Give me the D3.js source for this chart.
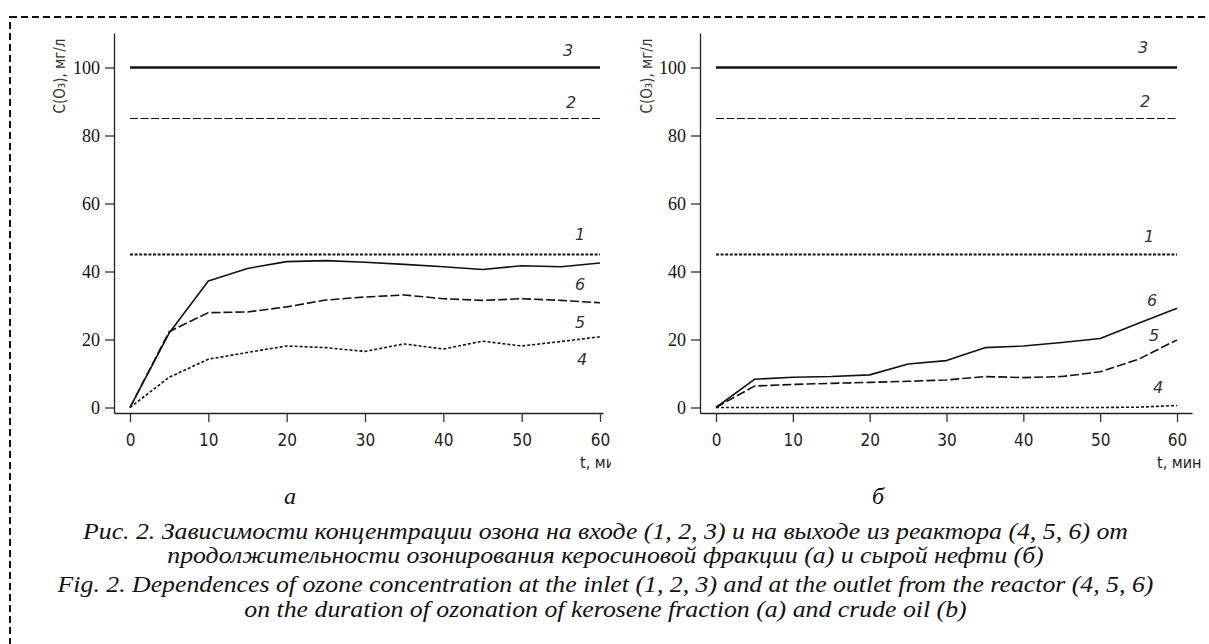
<!DOCTYPE html>
<html><head><meta charset="utf-8">
<script src="https://cdn.jsdelivr.net/npm/d3@7"></script>
<style>
html,body{margin:0;padding:0;background:#fff;}
svg{display:block;}
</style></head>
<body>
<svg id="chart" width="1209" height="644"></svg>
<script>
// ---- data ----
const times = [0,5,10,15,20,25,30,35,40,45,50,55,60];
const yTicks = [0,20,40,60,80,100];
const xTicks = [0,10,20,30,40,50,60];
const inletLevels = [45, 85, 100];          // curves 1, 2, 3
const inletLabels = ["1","2","3"];
// panel а (kerosene fraction)
const a_s4 = [0,8.9,14.2,16.2,18.1,17.6,16.5,18.7,17.2,19.5,18.1,19.4,20.8];
const a_s5 = [0,22.3,27.9,28.1,29.6,31.6,32.5,33.1,32.0,31.5,32.0,31.5,30.8];
const a_s6 = [0,21.9,37.2,40.9,42.9,43.2,42.7,42.1,41.4,40.6,41.7,41.4,42.5];
// panel б (crude oil)
const b_s4 = [0,0,0,0,0,0,0,0,0,0,0,0.1,0.6];
const b_s5 = [0,6.3,6.8,7.1,7.4,7.7,8.1,9.1,8.8,9.1,10.5,14.2,19.9];
const b_s6 = [0,8.3,8.9,9.1,9.6,12.8,13.8,17.6,18.1,19.1,20.3,24.8,29.2];
const outletLabels = ["4","5","6"];
const yTitle = "C(O\u2083), мг/л";
const xTitle = "t, мин";
const panelLetters = ["а","б"];
const captionLines = [
 "Рис. 2. Зависимости концентрации озона на входе (1, 2, 3) и на выходе из реактора (4, 5, 6) от",
 "продолжительности озонирования керосиновой фракции (а) и сырой нефти (б)",
 "Fig. 2. Dependences of ozone concentration at the inlet (1, 2, 3) and at the outlet from the reactor (4, 5, 6)",
 "on the duration of ozonation of kerosene fraction (a) and crude oil (b)"
];

const svg = d3.select("#chart");

// dashed frame
svg.append("rect").attr("x",10).attr("y",17).attr("width",1215).attr("height",650)
  .attr("fill","none").attr("stroke","#111").attr("stroke-width",2).attr("stroke-dasharray","7,4");

const inletStyles = [
  {dash:"3,1.6", w:2.2},
  {dash:"8,2.5", w:1},
  {dash:null, w:2.6}
];
const outletStyles = [
  {dash:"3,2", w:1.6},
  {dash:"9,3", w:1.6},
  {dash:null, w:1.6}
];

const panels = [
  {axisX:114, x0:130, x60:600, xEnd:603, titleX:60, clip:611,
   series:[a_s4,a_s5,a_s6],
   inletLabelPos:[[580,240],[571,108],[568,56]],
   outletLabelPos:[[582,365],[580,328],[580,290]],
   tLabel:[580,468]},
  {axisX:700, x0:716, x60:1177, xEnd:1192, titleX:647, clip:1209,
   series:[b_s4,b_s5,b_s6],
   inletLabelPos:[[1149,242],[1145,107],[1143,53]],
   outletLabelPos:[[1158,393],[1154,341],[1152,306]],
   tLabel:[1157,468]}
];

const yScale = d3.scaleLinear().domain([0,100]).range([407.5,67.5]);
const axisY = 413, axisTop = 33;

panels.forEach((p,pi)=>{
  const clipId = "clip"+pi;
  svg.append("clipPath").attr("id",clipId).append("rect")
    .attr("x",0).attr("y",0).attr("width",p.clip).attr("height",644);
  const g = svg.append("g").attr("clip-path",`url(#${clipId})`);
  const x = d3.scaleLinear().domain([0,60]).range([p.x0,p.x60]);
  const xAx = d3.scaleLinear().domain([x.invert(p.axisX), x.invert(p.xEnd)]).range([p.axisX,p.xEnd]);
  const yAx = d3.scaleLinear().domain([yScale.invert(axisY), yScale.invert(axisTop)]).range([axisY,axisTop]);

  const gx = g.append("g").attr("transform",`translate(0,${axisY})`)
    .call(d3.axisBottom(xAx).tickValues(xTicks).tickSize(9).tickSizeOuter(0).tickPadding(12).tickFormat(d3.format("d")));
  gx.selectAll("text").attr("font-family","'DejaVu Sans Condensed','DejaVu Sans',sans-serif")
    .style("font-stretch","condensed").attr("font-size",17).attr("fill","#222");
  const gy = g.append("g").attr("transform",`translate(${p.axisX},0)`)
    .call(d3.axisLeft(yAx).tickValues(yTicks).tickSize(9).tickSizeOuter(0).tickPadding(5).tickFormat(d3.format("d")));
  gy.selectAll("text").attr("font-family","'Liberation Serif','Times New Roman',serif").attr("font-size",18).attr("fill","#111");
  [gx,gy].forEach(a=>{
    a.select(".domain").attr("stroke","#222").attr("stroke-width",1.3);
    a.selectAll(".tick line").attr("stroke","#333").attr("stroke-width",1.3);
  });

  g.append("text").attr("transform",`translate(${p.titleX},76) rotate(-90)`)
    .attr("text-anchor","middle").attr("dy","0.35em")
    .attr("font-family","'DejaVu Sans Condensed','DejaVu Sans',sans-serif").style("font-stretch","condensed")
    .attr("font-size",15).attr("fill","#3a3330").text(yTitle);
  g.append("text").attr("x",p.tLabel[0]).attr("y",p.tLabel[1])
    .attr("font-family","'DejaVu Sans Condensed','DejaVu Sans',sans-serif").style("font-stretch","condensed")
    .attr("font-size",16).attr("fill","#222").text(xTitle);

  inletLevels.forEach((lv,i)=>{
    const st = inletStyles[i];
    g.append("path").datum([0,60])
      .attr("d", d3.line().x(d=>x(d)).y(()=>yScale(lv)))
      .attr("fill","none").attr("stroke","#111").attr("stroke-width",st.w)
      .attr("stroke-dasharray",st.dash);
    g.append("text").attr("x",p.inletLabelPos[i][0]).attr("y",p.inletLabelPos[i][1])
      .attr("text-anchor","middle")
      .attr("font-family","'DejaVu Sans',sans-serif").attr("font-style","italic")
      .attr("font-size",16).attr("fill","#333").text(inletLabels[i]);
  });

  p.series.forEach((s,i)=>{
    const st = outletStyles[i];
    g.append("path").datum(s)
      .attr("d", d3.line().x((d,j)=>x(times[j])).y(d=>yScale(d)))
      .attr("fill","none").attr("stroke","#111").attr("stroke-width",st.w)
      .attr("stroke-linejoin","round").attr("stroke-dasharray",st.dash);
    g.append("text").attr("x",p.outletLabelPos[i][0]).attr("y",p.outletLabelPos[i][1])
      .attr("text-anchor","middle")
      .attr("font-family","'DejaVu Sans',sans-serif").attr("font-style","italic")
      .attr("font-size",16).attr("fill","#333").text(outletLabels[i]);
  });
});

// panel letters
[[290,504],[878,504]].forEach((pos,i)=>{
  svg.append("text").attr("x",pos[0]).attr("y",pos[1]).attr("text-anchor","middle")
    .attr("font-family","'Liberation Serif','Times New Roman',serif").attr("font-style","italic")
    .attr("font-size",24).attr("fill","#111").text(panelLetters[i]);
});

// caption: uniform horizontal stretch so that the first line spans ~1045px
const capY = [539,563,592,617];
const capNodes = captionLines.map((t,i)=>
  svg.append("text").attr("x",605.5).attr("y",capY[i]).attr("text-anchor","middle")
    .attr("font-family","'Liberation Serif','Times New Roman',serif").attr("font-style","italic")
    .attr("font-size",22.5).attr("fill","#111").text(t));
const natural = capNodes.map(n=>n.node().getComputedTextLength());
const stretch = 1045 / natural[0];
capNodes.forEach((n,i)=>n.attr("textLength",natural[i]*stretch).attr("lengthAdjust","spacingAndGlyphs"));
</script>
</body></html>
